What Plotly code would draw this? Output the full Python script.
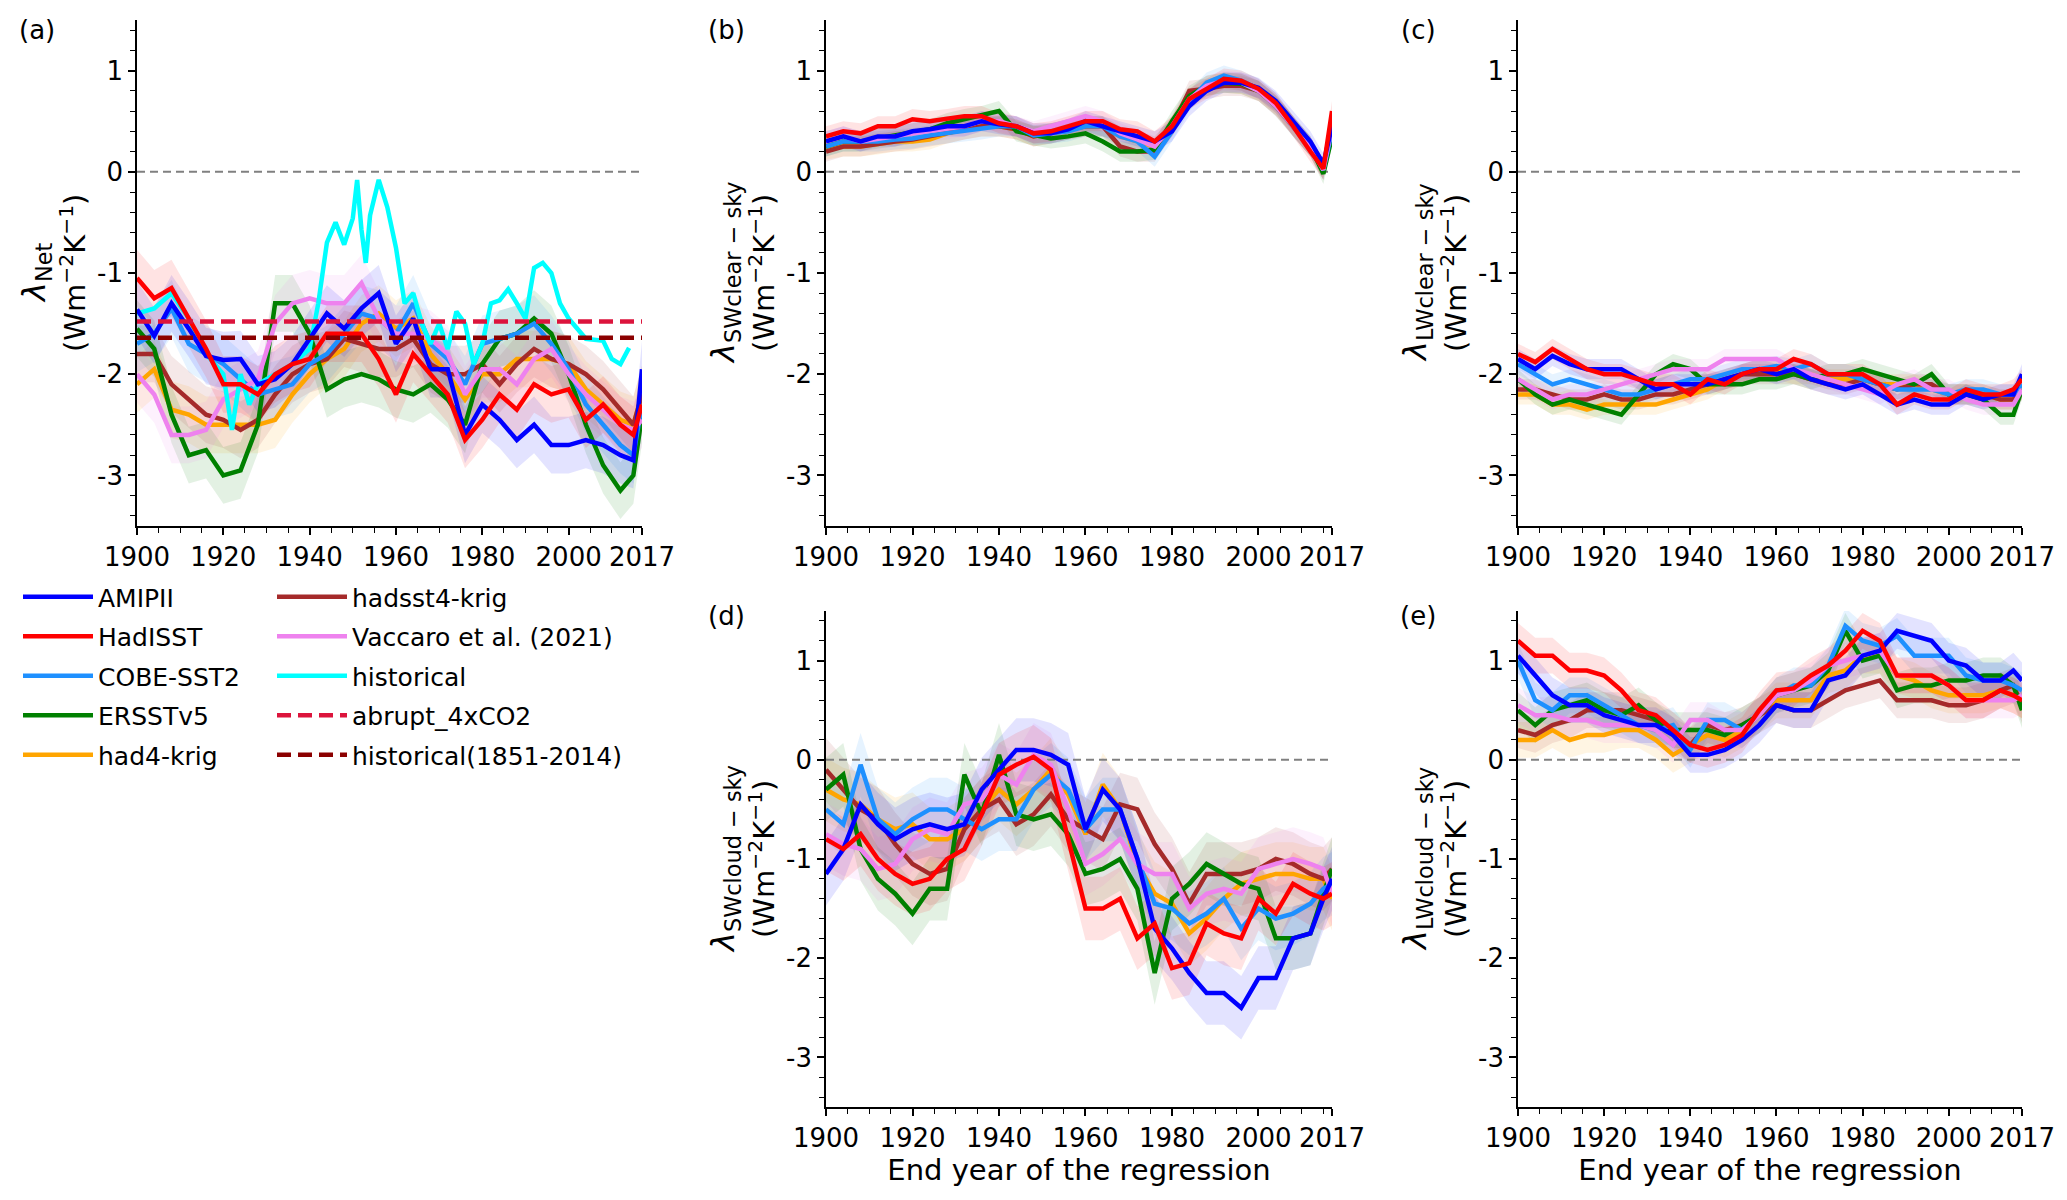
import plotly.graph_objects as go

W, H = 2067, 1200

# end year of the regression (sampled every 4 years, plus the last years)
YEARS = [1900, 1904, 1908, 1912, 1916, 1920, 1924, 1928, 1932, 1936, 1940,
         1944, 1948, 1952, 1956, 1960, 1964, 1968, 1972, 1976, 1980, 1984,
         1988, 1992, 1996, 2000, 2004, 2008, 2012, 2015, 2017]

NAMES = ["AMIPII", "HadISST", "COBE-SST2", "ERSSTv5", "had4-krig",
         "hadsst4-krig", "Vaccaro et al. (2021)"]
COLORS = ["#0000ff", "#ff0000", "#1e90ff", "#008000", "#ffa500",
          "#a52a2a", "#ee82ee"]

# (a) net feedback
NET_AMIPII = [-1.36, -1.62, -1.3, -1.55, -1.82, -1.86, -1.85, -2.1, -2.05, -1.9, -1.65, -1.4, -1.55, -1.35, -1.2, -1.7,
              -1.45, -1.95, -1.95, -2.6, -2.3, -2.45, -2.65, -2.5, -2.7, -2.7, -2.65, -2.7, -2.8, -2.85, -1.95]
NET_HADISST = [-1.05, -1.25, -1.15, -1.45, -1.75, -2.1, -2.1, -2.2, -2.0, -1.9, -1.85, -1.6, -1.6, -1.6, -1.85, -2.2,
               -1.8, -2.0, -2.2, -2.65, -2.45, -2.2, -2.35, -2.1, -2.2, -2.15, -2.45, -2.3, -2.5, -2.6, -2.3]
NET_COBE = [-1.7, -1.6, -1.35, -1.7, -1.8, -1.9, -2.05, -2.2, -2.15, -2.1, -1.9, -1.8, -1.6, -1.4, -1.45, -1.6,
            -1.3, -1.7, -1.85, -2.1, -1.7, -1.65, -1.6, -1.5, -1.7, -1.95, -2.3, -2.5, -2.7, -2.8, -2.3]
NET_ERSST = [-1.55, -1.75, -2.4, -2.8, -2.75, -3.0, -2.95, -2.5, -1.3, -1.3, -1.6, -2.15, -2.05, -2.0, -2.05, -2.15,
             -2.2, -2.1, -2.25, -2.5, -1.9, -1.65, -1.6, -1.45, -1.6, -2.0, -2.5, -2.9, -3.15, -3.0, -2.4]
NET_HAD4 = [-2.1, -1.95, -2.35, -2.4, -2.5, -2.5, -2.5, -2.5, -2.45, -2.2, -2.0, -1.85, -1.75, -1.5, -1.4, -1.55,
            -1.45, -1.8, -2.0, -2.25, -2.0, -2.0, -1.85, -1.85, -1.85, -1.9, -2.15, -2.3, -2.45, -2.5, -2.2]
NET_HADSST4 = [-1.8, -1.8, -2.1, -2.25, -2.4, -2.45, -2.55, -2.45, -2.2, -2.0, -1.9, -1.85, -1.65, -1.7, -1.75, -1.75,
               -1.65, -1.9, -2.0, -2.0, -1.9, -2.1, -1.9, -1.75, -1.85, -1.9, -2.0, -2.15, -2.35, -2.5, -2.2]
NET_VACCARO = [-2.0, -2.2, -2.6, -2.6, -2.55, -2.25, -2.15, -2.05, -1.5, -1.3, -1.25, -1.3, -1.3, -1.1, -1.45, -1.6,
               -1.6, -1.65, -1.8, -2.2, -1.95, -1.95, -2.1, -1.85, -1.75, -2.0, -2.2, -2.35, -2.5, -2.55, -2.45]

# coupled historical run, net feedback only
HIST_YEARS = [1900, 1904, 1908, 1912, 1916, 1920, 1922, 1924, 1926, 1928, 1932, 1936, 1940, 1942, 1944, 1946,
              1948, 1950, 1951, 1952, 1953, 1954, 1956, 1958, 1960, 1962, 1964, 1966, 1968, 1970, 1972, 1974,
              1976, 1978, 1980, 1982, 1984, 1986, 1988, 1990, 1992, 1994, 1996, 1998, 2000, 2004, 2008, 2010,
              2012, 2014]
HIST_NET = [-1.4, -1.35, -1.2, -1.45, -1.8, -2.0, -2.55, -2.0, -2.3, -2.1, -2.0, -1.9, -1.75, -1.3, -0.7, -0.5,
            -0.72, -0.46, -0.08, -0.57, -0.9, -0.43, -0.08, -0.35, -0.75, -1.3, -1.2, -1.5, -1.7, -1.5, -1.75, -1.38,
            -1.5, -1.9, -1.7, -1.3, -1.27, -1.16, -1.3, -1.45, -0.95, -0.9, -1.0, -1.3, -1.45, -1.65, -1.67, -1.85,
            -1.9, -1.74]

# constant reference feedbacks
ABRUPT_4XCO2 = -1.48
HIST_1851_2014 = -1.64

# (b) SW clear-sky
SWCS_AMIPII = [0.3, 0.35, 0.3, 0.35, 0.35, 0.4, 0.42, 0.45, 0.45, 0.5, 0.47, 0.45, 0.38, 0.38, 0.42, 0.5,
               0.45, 0.4, 0.35, 0.3, 0.4, 0.65, 0.8, 0.88, 0.88, 0.83, 0.7, 0.5, 0.3, 0.08, 0.45]
SWCS_HADISST = [0.35, 0.4, 0.38, 0.45, 0.45, 0.52, 0.5, 0.52, 0.55, 0.55, 0.48, 0.45, 0.38, 0.4, 0.45, 0.5,
                0.5, 0.42, 0.4, 0.3, 0.45, 0.72, 0.82, 0.92, 0.9, 0.82, 0.68, 0.45, 0.2, 0.03, 0.6]
SWCS_COBE = [0.25, 0.3, 0.3, 0.3, 0.32, 0.33, 0.36, 0.38, 0.4, 0.42, 0.45, 0.45, 0.36, 0.38, 0.4, 0.45,
             0.45, 0.35, 0.3, 0.15, 0.4, 0.7, 0.88, 0.95, 0.9, 0.82, 0.68, 0.45, 0.25, 0.02, 0.4]
SWCS_ERSST = [0.25, 0.3, 0.3, 0.33, 0.35, 0.38, 0.42, 0.48, 0.52, 0.55, 0.6, 0.4, 0.36, 0.33, 0.35, 0.38,
              0.3, 0.2, 0.2, 0.22, 0.5, 0.75, 0.85, 0.88, 0.87, 0.8, 0.65, 0.45, 0.25, -0.02, 0.35]
SWCS_HAD4 = [0.22, 0.25, 0.25, 0.27, 0.3, 0.3, 0.32, 0.38, 0.42, 0.45, 0.45, 0.42, 0.35, 0.38, 0.42, 0.45,
             0.45, 0.35, 0.3, 0.25, 0.45, 0.72, 0.85, 0.88, 0.87, 0.8, 0.66, 0.45, 0.25, 0.02, 0.45]
SWCS_HADSST4 = [0.2, 0.25, 0.25, 0.28, 0.3, 0.32, 0.35, 0.38, 0.42, 0.45, 0.45, 0.42, 0.35, 0.38, 0.42, 0.45,
                0.45, 0.25, 0.2, 0.2, 0.45, 0.8, 0.82, 0.85, 0.85, 0.8, 0.66, 0.45, 0.25, 0.02, 0.45]
SWCS_VACCARO = [0.3, 0.35, 0.3, 0.32, 0.35, 0.38, 0.4, 0.42, 0.45, 0.5, 0.5, 0.45, 0.4, 0.45, 0.5, 0.55,
                0.5, 0.38, 0.32, 0.25, 0.45, 0.72, 0.85, 0.9, 0.88, 0.8, 0.65, 0.45, 0.25, 0.02, 0.45]

# (c) LW clear-sky
LWCS_AMIPII = [-1.85, -1.95, -1.82, -1.9, -1.95, -1.95, -1.95, -2.05, -2.15, -2.1, -2.1, -2.1, -2.05, -2.0, -1.95, -2.0,
               -1.95, -2.05, -2.1, -2.15, -2.1, -2.2, -2.3, -2.25, -2.3, -2.3, -2.2, -2.25, -2.2, -2.2, -2.0]
LWCS_HADISST = [-1.8, -1.88, -1.75, -1.85, -1.95, -2.0, -2.0, -2.05, -2.1, -2.1, -2.2, -2.05, -2.1, -2.0, -1.95, -1.95,
                -1.85, -1.9, -2.0, -2.0, -2.0, -2.1, -2.3, -2.2, -2.25, -2.25, -2.15, -2.2, -2.2, -2.15, -2.05]
LWCS_COBE = [-1.9, -2.0, -2.1, -2.05, -2.1, -2.15, -2.2, -2.2, -2.15, -2.1, -2.05, -2.05, -2.0, -1.95, -1.95, -1.92,
             -1.95, -1.9, -2.0, -2.0, -2.05, -2.1, -2.15, -2.15, -2.15, -2.2, -2.15, -2.15, -2.2, -2.2, -2.1]
LWCS_ERSST = [-2.05, -2.2, -2.3, -2.25, -2.3, -2.35, -2.4, -2.2, -2.0, -1.9, -1.95, -2.1, -2.1, -2.1, -2.05, -2.05,
              -2.0, -2.05, -2.0, -2.0, -1.95, -2.0, -2.05, -2.1, -2.0, -2.2, -2.2, -2.25, -2.4, -2.4, -2.15]
LWCS_HAD4 = [-2.2, -2.2, -2.3, -2.3, -2.35, -2.3, -2.3, -2.3, -2.3, -2.25, -2.2, -2.15, -2.05, -2.0, -1.95, -1.95,
             -2.0, -2.0, -2.05, -2.05, -2.05, -2.1, -2.1, -2.1, -2.15, -2.2, -2.2, -2.2, -2.25, -2.25, -2.15]
LWCS_HADSST4 = [-2.15, -2.15, -2.2, -2.25, -2.25, -2.2, -2.25, -2.25, -2.2, -2.2, -2.15, -2.1, -2.05, -2.0, -2.0, -2.0,
                -2.0, -2.05, -2.1, -2.1, -2.05, -2.1, -2.15, -2.1, -2.1, -2.2, -2.2, -2.2, -2.25, -2.25, -2.15]
LWCS_VACCARO = [-2.05, -2.15, -2.25, -2.2, -2.2, -2.15, -2.1, -2.05, -2.0, -1.95, -1.95, -1.95, -1.85, -1.85, -1.85, -1.85,
                -1.95, -2.0, -2.05, -2.1, -2.15, -2.2, -2.1, -2.05, -2.15, -2.15, -2.25, -2.3, -2.3, -2.3, -2.15]

# (d) SW cloud
SWCL_AMIPII = [-1.15, -0.9, -0.45, -0.65, -0.8, -0.7, -0.65, -0.7, -0.65, -0.3, -0.1, 0.1, 0.1, 0.05, -0.05, -0.7,
               -0.3, -0.5, -1.0, -1.7, -1.9, -2.15, -2.35, -2.35, -2.5, -2.2, -2.2, -1.8, -1.75, -1.4, -1.2]
SWCL_HADISST = [-0.8, -0.9, -0.75, -1.0, -1.15, -1.25, -1.2, -1.0, -0.9, -0.55, -0.15, -0.05, 0.03, -0.1, -0.8, -1.5,
                -1.5, -1.4, -1.8, -1.65, -2.1, -2.05, -1.65, -1.75, -1.8, -1.4, -1.55, -1.25, -1.35, -1.4, -1.35]
SWCL_COBE = [-0.5, -0.65, -0.05, -0.6, -0.75, -0.6, -0.5, -0.5, -0.6, -0.7, -0.6, -0.6, -0.3, -0.15, -0.3, -0.7,
             -0.5, -0.5, -1.0, -1.45, -1.5, -1.65, -1.55, -1.4, -1.7, -1.5, -1.6, -1.55, -1.45, -1.3, -1.25]
SWCL_ERSST = [-0.3, -0.15, -0.9, -1.2, -1.35, -1.55, -1.3, -1.3, -0.15, -0.55, 0.05, -0.55, -0.6, -0.55, -0.75, -1.15,
              -1.1, -1.0, -1.3, -2.15, -1.4, -1.25, -1.05, -1.15, -1.25, -1.3, -1.8, -1.8, -1.75, -1.35, -1.1]
SWCL_HAD4 = [-0.3, -0.4, -0.45, -0.6, -0.7, -0.65, -0.8, -0.8, -0.7, -0.5, -0.3, -0.45, -0.3, -0.1, -0.35, -0.75,
             -0.25, -0.5, -1.05, -1.35, -1.45, -1.75, -1.6, -1.4, -1.25, -1.2, -1.15, -1.15, -1.2, -1.2, -1.4]
SWCL_HADSST4 = [-0.1, -0.3, -0.5, -0.6, -0.85, -1.05, -1.15, -1.1, -0.7, -0.5, -0.4, -0.65, -0.55, -0.35, -0.6, -0.7,
                -0.8, -0.45, -0.5, -0.85, -1.1, -1.45, -1.15, -1.15, -1.15, -1.1, -1.0, -1.05, -1.15, -1.2, -1.1]
SWCL_VACCARO = [-0.75, -0.85, -0.9, -1.1, -1.05, -0.8, -0.7, -0.75, -0.45, -0.4, -0.15, -0.25, 0.05, -0.05, -0.5, -1.05,
                -0.95, -0.8, -1.05, -1.15, -1.15, -1.5, -1.35, -1.3, -1.35, -1.1, -1.05, -1.0, -1.05, -1.1, -1.35]

# (e) LW cloud
LWCL_AMIPII = [1.05, 0.85, 0.65, 0.55, 0.55, 0.45, 0.4, 0.35, 0.35, 0.25, 0.05, 0.05, 0.1, 0.2, 0.35, 0.55,
               0.5, 0.5, 0.8, 0.85, 1.05, 1.1, 1.3, 1.25, 1.2, 1.0, 0.95, 0.8, 0.8, 0.9, 0.8]
LWCL_HADISST = [1.2, 1.05, 1.05, 0.9, 0.9, 0.85, 0.7, 0.5, 0.45, 0.3, 0.15, 0.1, 0.15, 0.25, 0.5, 0.7,
                0.72, 0.85, 0.95, 1.1, 1.3, 1.2, 0.85, 0.85, 0.85, 0.75, 0.6, 0.6, 0.7, 0.65, 0.6]
LWCL_COBE = [1.0, 0.6, 0.5, 0.65, 0.65, 0.55, 0.45, 0.35, 0.3, 0.35, 0.1, 0.4, 0.4, 0.3, 0.45, 0.65,
             0.75, 0.75, 0.95, 1.35, 1.2, 1.15, 1.25, 1.05, 1.05, 1.05, 0.85, 0.8, 0.8, 0.75, 0.7]
LWCL_ERSST = [0.5, 0.35, 0.5, 0.55, 0.6, 0.5, 0.45, 0.55, 0.4, 0.3, 0.3, 0.3, 0.25, 0.35, 0.45, 0.65,
              0.7, 0.75, 0.9, 1.3, 1.0, 1.05, 0.7, 0.75, 0.75, 0.8, 0.8, 0.85, 0.85, 0.75, 0.5]
LWCL_HAD4 = [0.2, 0.2, 0.3, 0.2, 0.25, 0.25, 0.3, 0.3, 0.2, 0.05, 0.15, 0.25, 0.2, 0.3, 0.45, 0.6,
             0.6, 0.6, 0.85, 0.9, 1.05, 1.05, 0.85, 0.8, 0.7, 0.65, 0.65, 0.65, 0.7, 0.65, 0.6]
LWCL_HADSST4 = [0.3, 0.25, 0.35, 0.4, 0.5, 0.5, 0.5, 0.45, 0.4, 0.25, 0.15, 0.35, 0.3, 0.35, 0.45, 0.55,
                0.5, 0.5, 0.6, 0.7, 0.75, 0.8, 0.6, 0.6, 0.6, 0.55, 0.55, 0.6, 0.7, 0.75, 0.55]
LWCL_VACCARO = [0.55, 0.45, 0.45, 0.4, 0.4, 0.35, 0.35, 0.35, 0.3, 0.15, 0.4, 0.4, 0.3, 0.3, 0.45, 0.65,
                0.7, 0.8, 0.95, 1.0, 1.05, 1.1, 0.85, 0.85, 0.85, 0.75, 0.6, 0.6, 0.6, 0.6, 0.65]

# half width of the shaded spread, per panel
BAND_HALF_WIDTH = [0.28, 0.1, 0.1, 0.32, 0.18]

PANEL_SERIES = [
    [NET_AMIPII, NET_HADISST, NET_COBE, NET_ERSST, NET_HAD4, NET_HADSST4, NET_VACCARO],
    [SWCS_AMIPII, SWCS_HADISST, SWCS_COBE, SWCS_ERSST, SWCS_HAD4, SWCS_HADSST4, SWCS_VACCARO],
    [LWCS_AMIPII, LWCS_HADISST, LWCS_COBE, LWCS_ERSST, LWCS_HAD4, LWCS_HADSST4, LWCS_VACCARO],
    [SWCL_AMIPII, SWCL_HADISST, SWCL_COBE, SWCL_ERSST, SWCL_HAD4, SWCL_HADSST4, SWCL_VACCARO],
    [LWCL_AMIPII, LWCL_HADISST, LWCL_COBE, LWCL_ERSST, LWCL_HAD4, LWCL_HADSST4, LWCL_VACCARO],
]
PANEL_LETTERS = ["(a)", "(b)", "(c)", "(d)", "(e)"]
PANEL_SUBS = ["Net", "SWclear − sky", "LWclear − sky", "SWcloud − sky", "LWcloud − sky"]

XTICKS = [1900, 1920, 1940, 1960, 1980, 2000, 2017]
YTICKS = [-3, -2, -1, 0, 1]
YTICK_TEXT = ["-3", "-2", "-1", "0", "1"]

# layout in pixels: (left, right) of each column and (top, bottom) of each row
COLS = [(129, 634), (818, 1324), (1510, 2014)]
ROWS = [(12, 518), (603, 1099)]
PANEL_CELLS = [(0, 0), (0, 1), (0, 2), (1, 1), (1, 2)]
LETTER_Y = [22, 22, 22, 608, 608]

DRAW_ORDER = [4, 5, 3, 2, 6, 0, 1]


def rgba(hex_color, alpha):
    h = hex_color.lstrip("#")
    return "rgba(%d,%d,%d,%s)" % (int(h[0:2], 16), int(h[2:4], 16), int(h[4:6], 16), alpha)


fig = go.Figure()

for k, series in enumerate(PANEL_SERIES):
    xa = "x" if k == 0 else "x%d" % (k + 1)
    ya = "y" if k == 0 else "y%d" % (k + 1)
    half = BAND_HALF_WIDTH[k]

    # shaded spread
    for j in DRAW_ORDER:
        vals = series[j]
        fig.add_trace(go.Scatter(x=YEARS, y=[v - half for v in vals], mode="lines",
                                 line=dict(width=0), hoverinfo="skip", showlegend=False,
                                 legend="legend" if j < 5 else "legend2",
                                 legendgroup=NAMES[j], legendrank=j + 1, xaxis=xa, yaxis=ya))
        fig.add_trace(go.Scatter(x=YEARS, y=[v + half for v in vals], mode="lines",
                                 line=dict(width=0), fill="tonexty", fillcolor=rgba(COLORS[j], 0.11),
                                 hoverinfo="skip", showlegend=False,
                                 legend="legend" if j < 5 else "legend2",
                                 legendgroup=NAMES[j], legendrank=j + 1, xaxis=xa, yaxis=ya))

    # zero line
    fig.add_trace(go.Scatter(x=[YEARS[0], YEARS[-1]], y=[0, 0], mode="lines",
                             line=dict(color="#808080", width=2, dash="8px,5px"),
                             hoverinfo="skip", showlegend=False, legendrank=100,
                             xaxis=xa, yaxis=ya))

    for j in DRAW_ORDER:
        if k == 0 and j == 0:
            fig.add_trace(go.Scatter(x=HIST_YEARS, y=HIST_NET, mode="lines", name="historical",
                                     line=dict(color="#00ffff", width=4.5), legend="legend2",
                                     legendgroup="historical", legendrank=8,
                                     showlegend=True, xaxis=xa, yaxis=ya))
        fig.add_trace(go.Scatter(x=YEARS, y=series[j], mode="lines", name=NAMES[j],
                                 line=dict(color=COLORS[j], width=4.5),
                                 legend="legend" if j < 5 else "legend2",
                                 legendgroup=NAMES[j], legendrank=j + 1,
                                 showlegend=(k == 0), xaxis=xa, yaxis=ya))

    if k == 0:
        fig.add_trace(go.Scatter(x=[YEARS[0], YEARS[-1]], y=[ABRUPT_4XCO2, ABRUPT_4XCO2], mode="lines",
                                 name="abrupt_4xCO2", line=dict(color="#dc143c", width=4.5, dash="14px,7px"),
                                 legend="legend2", legendgroup="abrupt_4xCO2", legendrank=9,
                                 xaxis=xa, yaxis=ya))
        fig.add_trace(go.Scatter(x=[YEARS[0], YEARS[-1]], y=[HIST_1851_2014, HIST_1851_2014], mode="lines",
                                 name="historical(1851-2014)",
                                 line=dict(color="#8b0000", width=4.5, dash="14px,7px"),
                                 legend="legend2", legendgroup="historical(1851-2014)", legendrank=10,
                                 xaxis=xa, yaxis=ya))

axis_common = dict(showline=True, linecolor="black", linewidth=1.5, showgrid=False, zeroline=False,
                   automargin=False, ticks="outside", ticklen=7, tickwidth=1.5, tickcolor="black",
                   tickfont=dict(size=26, color="black"))

layout_axes = {}
annotations = []
for k, (r, c) in enumerate(PANEL_CELLS):
    left, right = COLS[c]
    top, bottom = ROWS[r]
    sx = "" if k == 0 else str(k + 1)
    xa_anchor = "y" if k == 0 else "y%d" % (k + 1)
    ya_anchor = "x" if k == 0 else "x%d" % (k + 1)
    xaxis = dict(axis_common, domain=[left / W, right / W], anchor=xa_anchor,
                 range=[YEARS[0], YEARS[-1]], tickmode="array", tickvals=XTICKS,
                 ticktext=[str(t) for t in XTICKS],
                 minor=dict(tickmode="linear", tick0=1900, dtick=5, ticks="outside",
                            ticklen=5, tickwidth=1.2, tickcolor="black"))
    if r == 1:
        xaxis["title"] = dict(text="End year of the regression", font=dict(size=29, color="black"),
                              standoff=8)
    yaxis = dict(axis_common, domain=[1 - bottom / H, 1 - top / H], anchor=ya_anchor,
                 range=[-3.5, 1.5], tickmode="array", tickvals=YTICKS, ticktext=YTICK_TEXT,
                 minor=dict(tickmode="linear", tick0=0, dtick=0.2, ticks="outside",
                            ticklen=5, tickwidth=1.2, tickcolor="black"))
    layout_axes["xaxis" + sx] = xaxis
    layout_axes["yaxis" + sx] = yaxis

    mid_y = 1 - (top + bottom) / 2 / H
    annotations.append(dict(xref="paper", yref="paper", x=(left - 101) / W, y=mid_y,
                            text="<i>λ</i><sub>%s</sub>" % PANEL_SUBS[k], textangle=-90,
                            showarrow=False, xanchor="center", yanchor="middle",
                            font=dict(size=32, color="black")))
    annotations.append(dict(xref="paper", yref="paper", x=(left - 64) / W, y=mid_y,
                            text="(Wm<sup>−2</sup>K<sup>−1</sup>)", textangle=-90,
                            showarrow=False, xanchor="center", yanchor="middle",
                            font=dict(size=29, color="black")))
    annotations.append(dict(xref="paper", yref="paper", x=(left - 100) / W, y=1 - LETTER_Y[k] / H,
                            text=PANEL_LETTERS[k], showarrow=False, xanchor="center",
                            yanchor="middle", font=dict(size=26, color="black")))

legend_common = dict(xanchor="left", yanchor="top", font=dict(size=25, color="black"),
                     bgcolor="rgba(0,0,0,0)", tracegroupgap=4, itemwidth=70,
                     traceorder="grouped")

fig.update_layout(
    width=W, height=H,
    margin=dict(l=0, r=0, t=0, b=0),
    paper_bgcolor="white", plot_bgcolor="white",
    font=dict(family="DejaVu Sans", color="black"),
    legend=dict(legend_common, x=10 / W, y=1 - 566 / H),
    legend2=dict(legend_common, x=264 / W, y=1 - 566 / H),
    annotations=annotations,
    **layout_axes,
)

fig.write_html("out.html")
